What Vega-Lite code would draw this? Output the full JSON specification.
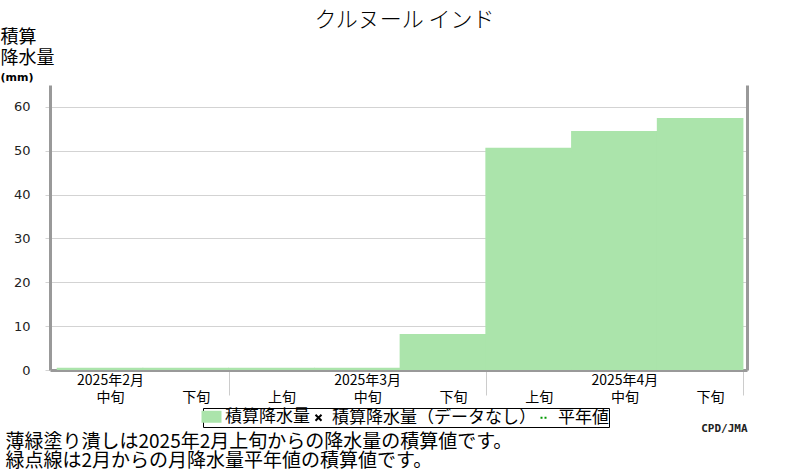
{
  "$schema": "https://vega.github.io/schema/vega-lite/v6.json",
  "width": 697,
  "height": 285,
  "autosize": {"type": "none"},
  "padding": {"left": 50, "top": 85, "right": 53, "bottom": 100},
  "background": "white",
  "title": {
    "text": "クルヌール インド",
    "font": "Noto Sans CJK JP",
    "fontSize": 22,
    "fontWeight": 300,
    "color": "#000000",
    "anchor": "middle",
    "offset": -4,
    "dx": 6
  },
  "data": {
    "values": [
      {"period": "2025年2月 中旬", "series": "積算降水量", "value": 0.5},
      {"period": "2025年2月 下旬", "series": "積算降水量", "value": 0.5},
      {"period": "2025年3月 上旬", "series": "積算降水量", "value": 0.5},
      {"period": "2025年3月 中旬", "series": "積算降水量", "value": 0.5},
      {"period": "2025年3月 下旬", "series": "積算降水量", "value": 8.2},
      {"period": "2025年4月 上旬", "series": "積算降水量", "value": 50.7},
      {"period": "2025年4月 中旬", "series": "積算降水量", "value": 54.5},
      {"period": "2025年4月 下旬", "series": "積算降水量", "value": 57.5}
    ]
  },
  "layer": [
    {
      "mark": {"type": "bar", "width": {"band": 1.01}},
      "encoding": {
        "x": {
          "field": "period",
          "type": "ordinal",
          "sort": null,
          "scale": {"paddingInner": 0, "paddingOuter": 0.065, "align": 0.64},
          "axis": {
            "orient": "bottom",
            "labelExpr": "split(datum.value,' ')[1] == '中旬' ? split(datum.value,' ') : ['', split(datum.value,' ')[1]]",
            "labelAngle": 0,
            "labelFont": "Noto Sans CJK JP",
            "labelFontSize": 14,
            "labelLineHeight": 17,
            "labelOffset": 10,
            "labelPadding": -22,
            "labelBaseline": "top",
            "labelColor": "#000000",
            "ticks": true,
            "tickBand": "extent",
            "tickSize": 25,
            "tickWidth": 1,
            "tickColor": "#cccccc",
            "tickOpacity": {"condition": {"test": "isValid(datum.value) && indexof(datum.value,'下旬') >= 0", "value": 1}, "value": 0},
            "domainColor": "#999999",
            "domainWidth": 3,
            "grid": false,
            "title": "CPD/JMA",
            "titleX": 697,
            "titleY": 52,
            "titleAlign": "right",
            "titleBaseline": "top",
            "titleFont": "DejaVu Sans Mono",
            "titleFontSize": 11,
            "titleFontWeight": "bold",
            "titleColor": "#222222"
          }
        },
        "y": {
          "field": "value",
          "type": "quantitative",
          "scale": {"domain": [0, 65], "nice": false},
          "axis": {
            "orient": "left",
            "values": [0, 10, 20, 30, 40, 50, 60],
            "grid": true,
            "gridColor": "#d3d3d3",
            "tickColor": "#d3d3d3",
            "tickSize": 5,
            "labelPadding": 15,
            "labelFont": "DejaVu Sans",
            "labelFontSize": 13,
            "labelColor": "#222222",
            "domainColor": "#999999",
            "domainWidth": 3,
            "title": ["積算", "降水量"],
            "titleAngle": 0,
            "titleX": -50,
            "titleY": -57,
            "titleAlign": "left",
            "titleBaseline": "top",
            "titleFont": "Noto Sans CJK JP",
            "titleFontSize": 18,
            "titleFontWeight": "normal",
            "titleLineHeight": 21,
            "titleColor": "#000000"
          }
        },
        "color": {
          "field": "series",
          "type": "nominal",
          "scale": {
            "domain": ["積算降水量", "積算降水量（データなし）", "平年値"],
            "range": ["#abe4ab", "#000000", "#009900"]
          },
          "legend": {
            "orient": "none",
            "legendX": 153,
            "legendY": 323,
            "direction": "horizontal",
            "title": null,
            "strokeColor": "#000000",
            "fillColor": "#ffffff",
            "padding": 0,
            "labelFont": "Noto Sans CJK JP",
            "labelFontSize": 17,
            "labelLimit": 400,
            "labelColor": "#000000",
            "labelOffset": 5,
            "columnPadding": -3,
            "symbolSize": 144,
            "encode": {
              "symbols": {
                "update": {
                  "shape": {"signal": "datum.value === '平年値' ? 'stroke' : datum.value === '積算降水量' ? 'M-1,-0.6L1,-0.6L1,0.6L-1,0.6Z' : 'M-1,-1L1,1M-1,1L1,-1'"},
                  "size": {"signal": "datum.value === '積算降水量' ? 400 : datum.value === '平年値' ? 64 : 36"},
                  "fill": {"signal": "datum.value === '積算降水量' ? '#abe4ab' : 'transparent'"},
                  "stroke": {"signal": "datum.value === '積算降水量' ? 'transparent' : datum.value === '平年値' ? '#009900' : '#000000'"},
                  "strokeWidth": {"value": 2},
                  "strokeDash": {"signal": "datum.value === '平年値' ? [2, 2] : []"},
                  "opacity": {"value": 1}
                }
              }
            }
          }
        }
      }
    },
    {
      "mark": {"type": "bar", "opacity": 0},
      "encoding": {
        "x": {
          "field": "period",
          "type": "ordinal",
          "sort": null,
          "axis": {
            "orient": "bottom",
            "domain": false,
            "ticks": false,
            "labels": false,
            "grid": false,
            "title": ["薄緑塗り潰しは2025年2月上旬からの降水量の積算値です。", "緑点線は2月からの月降水量平年値の積算値です。"],
            "titleX": -45,
            "titleY": 62,
            "titleAlign": "left",
            "titleBaseline": "top",
            "titleFont": "Noto Sans CJK JP",
            "titleFontSize": 19,
            "titleFontWeight": "normal",
            "titleLineHeight": 19,
            "titleColor": "#000000"
          }
        },
        "y": {
          "field": "value",
          "type": "quantitative",
          "axis": {
            "orient": "right",
            "domainColor": "#999999",
            "domainWidth": 3,
            "ticks": false,
            "labels": false,
            "grid": false,
            "title": "(mm)",
            "titleAngle": 0,
            "titleX": -747,
            "titleY": -14,
            "titleAlign": "left",
            "titleBaseline": "top",
            "titleFont": "DejaVu Sans",
            "titleFontSize": 11,
            "titleFontWeight": "bold",
            "titleColor": "#000000"
          }
        }
      }
    }
  ],
  "resolve": {"axis": {"x": "independent", "y": "independent"}},
  "config": {"view": {"stroke": null}}
}
